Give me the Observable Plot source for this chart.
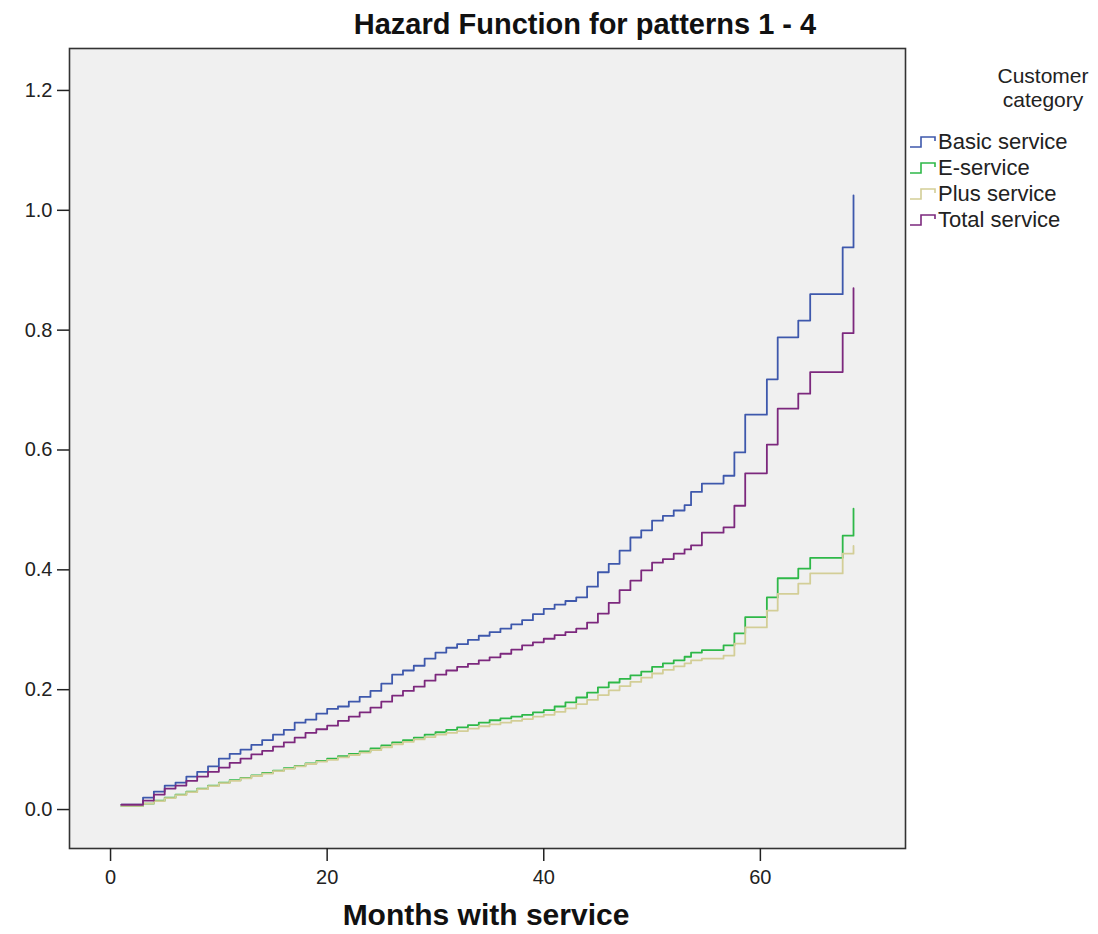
<!DOCTYPE html>
<html>
<head>
<meta charset="utf-8">
<script src="https://cdn.jsdelivr.net/npm/d3@7"></script>
<script src="https://cdn.jsdelivr.net/npm/@observablehq/plot@0.6"></script>
<style>
  html, body { margin: 0; padding: 0; background: #fff; }
  #wrap { position: relative; width: 1098px; height: 934px; font-family: "Liberation Sans", Arial, sans-serif; color: #111; }
  #wrap > svg { position: absolute; left: 0; top: 0; }
  .title { position: absolute; top: 8px; left: 285px; width: 600px; text-align: center; font-weight: bold; font-size: 29px; white-space: nowrap; }
  .xlabel { position: absolute; top: 898px; left: 186px; width: 600px; text-align: center; font-weight: bold; font-size: 30px; white-space: nowrap; }
  .legend { position: absolute; left: 909px; top: 64px; width: 189px; color: #222; }
  .legend .lt { text-align: center; line-height: 24px; margin-left: 74px; width: 120px; font-size: 21px; }
  .legend .item { display: flex; align-items: center; height: 26px; white-space: nowrap; font-size: 22px; }
  .legend .item svg { position: static; margin-right: 1px; flex: none; }
</style>
</head>
<body>
<div id="wrap"></div>
<script>
// Series names and colours
const seriesNames = ["Basic service", "E-service", "Plus service", "Total service"];
const seriesColors = ["#3E58AC", "#2EB848", "#D3CE97", "#7C287D"];

// Step start months (shared by all series)
const months = [1,2,3,4,5,6,7,8,9,10,11,12,13,14,15,16,17,18,19,20,21,22,23,24,25,26,27,28,29,30,
  31,32,33,34,35,36,37,38,39,40,41,42,43,44,45,46,47,48,49,50,51,52,53,53.6,54.6,56.6,57.6,58.6,60.6,61.6,63.5,64.6,67.6,68.6];

// Cumulative hazard values
const basic = [.008,.008,.020,.030,.040,.045,.055,.063,.072,.085,.093,.100,.108,.116,.125,.133,.145,.150,.160,.168,
  .172,.180,.188,.198,.210,.225,.232,.240,.252,.262,.270,.276,.283,.290,.296,.302,.309,.316,.326,.335,
  .342,.348,.354,.372,.396,.410,.432,.454,.466,.482,.490,.499,.508,.530,.544,.557,.596,.659,.718,.788,.816,.860,.938,1.025];
const eService = [.006,.006,.010,.015,.020,.025,.030,.035,.040,.045,.049,.053,.057,.061,.065,.069,.073,.077,.081,.085,
  .089,.093,.097,.102,.107,.112,.116,.120,.125,.129,.133,.137,.141,.145,.149,.152,.155,.158,.162,.166,
  .172,.179,.187,.195,.204,.212,.218,.224,.230,.238,.244,.249,.255,.262,.266,.274,.294,.321,.354,.386,.402,.420,.457,.502];
const plusService = [.006,.006,.010,.014,.019,.024,.029,.034,.039,.044,.048,.052,.056,.060,.064,.068,.072,.076,.080,.083,
  .087,.091,.095,.099,.104,.109,.113,.117,.121,.125,.128,.131,.135,.139,.142,.145,.148,.151,.155,.158,
  .163,.169,.176,.183,.191,.199,.206,.213,.220,.227,.233,.239,.244,.249,.252,.257,.277,.304,.332,.360,.377,.394,.427,.440];
const totalService = [.008,.008,.015,.025,.035,.040,.048,.055,.063,.070,.078,.085,.092,.098,.105,.112,.120,.128,.134,.140,
  .148,.155,.162,.170,.180,.190,.198,.205,.215,.225,.232,.238,.243,.249,.254,.260,.267,.274,.279,.285,
  .291,.296,.302,.312,.327,.345,.366,.382,.399,.412,.418,.427,.434,.441,.462,.471,.507,.561,.609,.669,.694,.730,.795,.870];

const xTicks = [0, 20, 40, 60];
const yTicks = [0, 0.2, 0.4, 0.6, 0.8, 1.0, 1.2];

const valueSets = [basic, eService, plusService, totalService];
const rows = [];
seriesNames.forEach((s, i) => months.forEach((m, j) => rows.push({series: s, month: m, value: valueSets[i][j]})));

const chart = Plot.plot({
  width: 1098,
  height: 934,
  marginLeft: 69,
  marginRight: 193,
  marginTop: 48,
  marginBottom: 86,
  style: {fontFamily: "'Liberation Sans', Arial, sans-serif", fontSize: "20px", color: "#222", background: "transparent", overflow: "visible"},
  x: {domain: [-3.79, 73.4], label: null},
  y: {domain: [-0.065, 1.27], label: null},
  color: {domain: seriesNames, range: seriesColors},
  marks: [
    Plot.frame({fill: "#f0f0f0", stroke: null}),
    Plot.line(rows, {x: "month", y: "value", z: "series", stroke: "series", curve: "step-after", strokeWidth: 1.8}),
    Plot.frame({stroke: "#333", strokeWidth: 1.6}),
    Plot.axisX({ticks: xTicks, tickSize: 13, tickPadding: 8, tickFormat: d3.format("d"), label: null, strokeWidth: 1.5}),
    Plot.axisY({ticks: yTicks, tickSize: 12, tickPadding: 5, tickFormat: d3.format(".1f"), label: null, strokeWidth: 1.5})
  ]
});

const wrap = document.getElementById("wrap");
wrap.appendChild(chart);

const title = document.createElement("div");
title.className = "title";
title.textContent = "Hazard Function for patterns 1 - 4";
wrap.appendChild(title);

const xlab = document.createElement("div");
xlab.className = "xlabel";
xlab.textContent = "Months with service";
wrap.appendChild(xlab);

const legend = document.createElement("div");
legend.className = "legend";
const lt = document.createElement("div");
lt.className = "lt";
lt.innerHTML = "Customer<br>category";
legend.appendChild(lt);
const spacer = document.createElement("div");
spacer.style.height = "17px";
legend.appendChild(spacer);
seriesNames.forEach((s, i) => {
  const item = document.createElement("div");
  item.className = "item";
  const ns = "http://www.w3.org/2000/svg";
  const sw = document.createElementNS(ns, "svg");
  sw.setAttribute("width", "28");
  sw.setAttribute("height", "16");
  const p = document.createElementNS(ns, "path");
  p.setAttribute("d", "M1,13 H12 V3 H26 V7");
  p.setAttribute("fill", "none");
  p.setAttribute("stroke", seriesColors[i]);
  p.setAttribute("stroke-width", "1.6");
  sw.appendChild(p);
  item.appendChild(sw);
  const t = document.createElement("span");
  t.textContent = s;
  item.appendChild(t);
  legend.appendChild(item);
});
wrap.appendChild(legend);
</script>
</body>
</html>
